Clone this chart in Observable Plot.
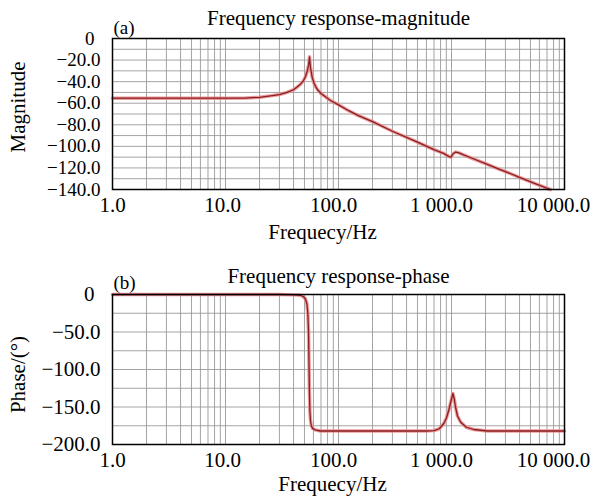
<!DOCTYPE html>
<html>
<head>
<meta charset="utf-8">
<script src="https://cdn.jsdelivr.net/npm/d3@7"></script>
<script src="https://cdn.jsdelivr.net/npm/@observablehq/plot@0.6"></script>
<style>
  html, body { margin: 0; padding: 0; background: white; }
  #chart { width: 596px; }
  #chart svg { display: block; }
</style>
</head>
<body>
<div id="chart"></div>
<script>
// ---- data ----
const magFreq = [1, 3, 10, 15, 20, 25, 30, 35, 40, 43, 46, 49, 51, 53, 54.5, 55.4, 56.5, 58.5, 61, 64.7, 70, 85, 100, 122, 150, 200, 300, 500, 700, 850, 950, 990, 1030, 1085, 1150, 1250, 1500, 2000, 2700, 4000, 5500, 7500];
const magDb = [-55.3, -55.3, -55.3, -55.2, -54.5, -53.2, -52, -50, -47.5, -45, -42.5, -39, -35.5, -30, -24, -17, -27, -36, -42, -47, -51, -57.5, -61.5, -66.7, -71.5, -77, -86, -96, -103, -106.5, -109.5, -110, -107, -105.3, -105.8, -107.5, -110.8, -116, -121.5, -128.7, -134.5, -140];

const phaseFreq = [1, 10, 30, 40, 46, 49, 51, 52.5, 53.5, 54.3, 54.8, 55.3, 55.8, 56.5, 57.5, 59, 62, 69, 100, 300, 600, 700, 780, 854, 900, 947, 990, 1028, 1060, 1085, 1130, 1203, 1350, 1574, 2073, 10000];
const phaseDeg = [0, 0, 0, -0.5, -1, -3, -6, -12, -25, -50, -90, -130, -155, -168, -175, -178.5, -180.5, -182, -182, -182, -182, -181.5, -179, -172, -165, -154, -142, -132, -140, -150, -162, -170, -177, -180, -182, -182];

const xTicks = [1, 10, 100, 1000, 10000];
const magTicks = [-140, -120, -100, -80, -60, -40, -20, 0];
const phaseTicks = [-200, -150, -100, -50, 0];
const xLabel = "Frequecy/Hz";
const magTitle = "Frequency response-magnitude";
const phaseTitle = "Frequency response-phase";
const magYLabel = "Magnitude";
const phaseYLabel = "Phase/(°)";

// ---- helpers ----
const minorX = [];
for (let e = 0; e < 4; e++) for (let k = 1; k <= 9; k++) minorX.push(k * Math.pow(10, e));
const gridXVals = minorX.filter(d => d > 1 && d < 10000);
const fmtX = d => d3.format(",.1f")(d).replace(/,/g, " ");
const fmtY = d => d === 0 ? "0" : d.toFixed(1).replace("-", "\u2212");
// small leftward nudges of the x tick labels, as in the reference typesetting
const xLabelNudge = [0, -3, -5, -10, -11];

const magData = magFreq.map((f, i) => ({f, v: magDb[i]}));
const phaseData = phaseFreq.map((f, i) => ({f, v: phaseDeg[i]}));

const plotStyle = {fontFamily: "'Liberation Serif', 'Times New Roman', serif", fontSize: "21px", color: "black", background: "white", overflow: "visible"};

function panel({data, yDomain, yTicks, yGrid, yTickSize, height, marginTop, marginBottom, title, tag, yLabel, titleDy, tagDy, xLabelDy, xLabelDx, yLabelDy}) {
  return Plot.plot({
    width: 596,
    height,
    marginLeft: 112,
    marginRight: 32,
    marginTop,
    marginBottom,
    style: plotStyle,
    x: {type: "log", domain: [1, 10000]},
    y: {domain: yDomain},
    marks: [
      Plot.gridX(gridXVals, {stroke: "#9a9a9a", strokeOpacity: 0.9, strokeWidth: 1}),
      Plot.gridY(yGrid, {stroke: "#9a9a9a", strokeOpacity: 0.9, strokeWidth: 1}),
      Plot.line(data, {x: "f", y: "v", stroke: "#e98a8c", strokeWidth: 3.5, strokeOpacity: 0.85}),
      Plot.line(data, {x: "f", y: "v", stroke: "#8a1f22", strokeWidth: 1.3}),
      Plot.frame({stroke: "black", strokeWidth: 1.5}),
      ...xTicks.map((t, i) => Plot.axisX([t], {tickSize: 0, tickPadding: 8, tickFormat: fmtX, label: null, fontSize: 21, dx: xLabelNudge[i]})),
      Plot.axisY(yTicks.filter(d => d !== 0), {tickSize: 0, tickPadding: 12, tickFormat: fmtY, label: null, fontSize: yTickSize}),
      Plot.axisY([0], {tickSize: 0, tickPadding: 18, tickFormat: fmtY, label: null, fontSize: yTickSize}),
      Plot.text([title], {text: d => d, frameAnchor: "top", lineAnchor: "middle", dy: titleDy, fontSize: 21}),
      Plot.text([tag], {text: d => d, frameAnchor: "top-left", textAnchor: "start", lineAnchor: "middle", dy: tagDy, dx: 1, fontSize: 19}),
      Plot.text([xLabel], {text: d => d, frameAnchor: "bottom", lineAnchor: "middle", dy: xLabelDy, dx: xLabelDx, fontSize: 21}),
      Plot.text([yLabel], {text: d => d, frameAnchor: "left", textAnchor: "middle", lineAnchor: "middle", rotate: -90, dx: -94, dy: yLabelDy, fontSize: 21})
    ]
  });
}

const magPlot = panel({
  data: magData,
  yDomain: [-140, 0],
  yTicks: magTicks,
  yGrid: d3.range(-130, 0, 10),
  yTickSize: 19,
  height: 250,
  marginTop: 38,
  marginBottom: 61,
  title: magTitle,
  tag: "(a)",
  yLabel: magYLabel,
  titleDy: -20,
  tagDy: -11,
  xLabelDy: 43,
  xLabelDx: -16,
  yLabelDy: -7
});

const phasePlot = panel({
  data: phaseData,
  yDomain: [-200, 0],
  yTicks: phaseTicks,
  yGrid: d3.range(-175, 0, 25),
  yTickSize: 21,
  height: 247,
  marginTop: 44,
  marginBottom: 53,
  title: phaseTitle,
  tag: "(b)",
  yLabel: phaseYLabel,
  titleDy: -18,
  tagDy: -12,
  xLabelDy: 40,
  xLabelDx: -6,
  yLabelDy: 5
});

const chart = document.getElementById("chart");
chart.appendChild(magPlot);
chart.appendChild(phasePlot);
</script>
</body>
</html>
